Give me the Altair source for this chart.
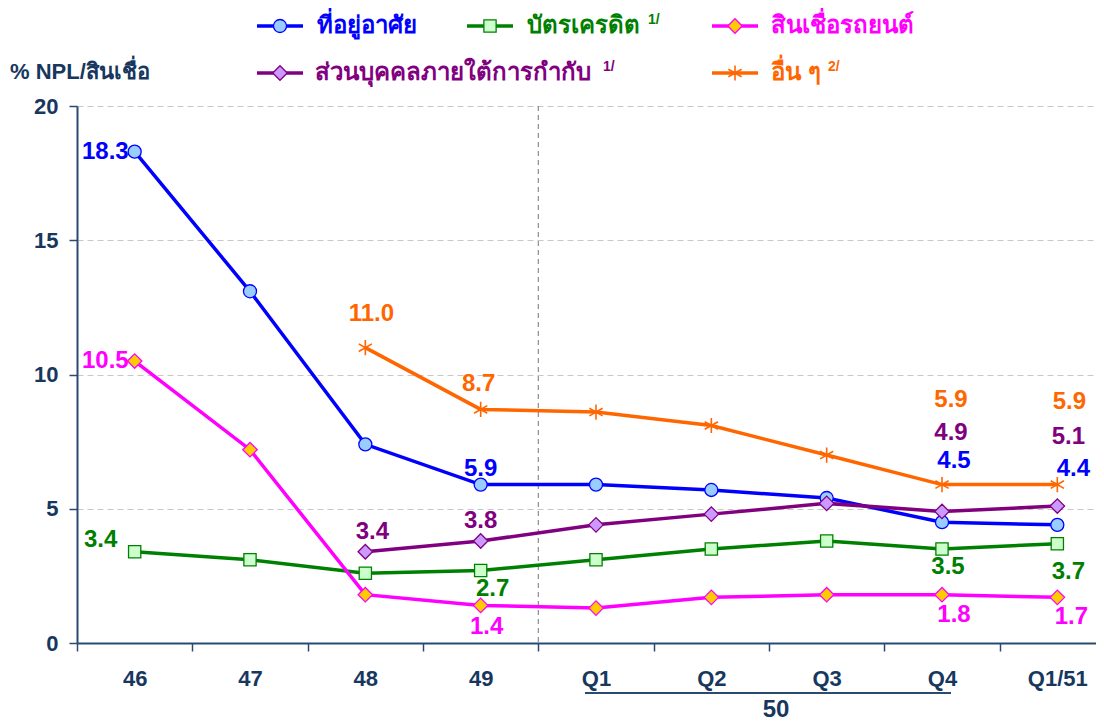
import altair as alt
import pandas as pd

# ---------------- data ----------------
categories = ["46", "47", "48", "49", "Q1", "Q2", "Q3", "Q4", "Q1/51"]
series_names = ["ที่อยู่อาศัย", "บัตรเครดิต", "สินเชื่อรถยนต์",
                "ส่วนบุคคลภายใต้การกำกับ", "อื่น ๆ"]
series_notes = ["", "1/", "", "1/", "2/"]
housing = [18.3, 13.1, 7.4, 5.9, 5.9, 5.7, 5.4, 4.5, 4.4]
credit_card = [3.4, 3.1, 2.6, 2.7, 3.1, 3.5, 3.8, 3.5, 3.7]
auto_loan = [10.5, 7.2, 1.8, 1.4, 1.3, 1.7, 1.8, 1.8, 1.7]
personal = [None, None, 3.4, 3.8, 4.4, 4.8, 5.2, 4.9, 5.1]
others = [None, None, 11.0, 8.7, 8.6, 8.1, 7.0, 5.9, 5.9]
series_values = [housing, credit_card, auto_loan, personal, others]
y_ticks = [0, 5, 10, 15, 20]
y_title = "% NPL/สินเชื่อ"
group_label = "50"
group_start, group_end = "Q1", "Q4"

# labelled points: (series index, category)
labelled = [(0, "46"), (2, "46"), (1, "46"),
            (4, "48"), (3, "48"),
            (4, "49"), (0, "49"), (3, "49"), (1, "49"), (2, "49"),
            (4, "Q4"), (3, "Q4"), (0, "Q4"), (1, "Q4"), (2, "Q4"),
            (4, "Q1/51"), (3, "Q1/51"), (0, "Q1/51"), (1, "Q1/51"), (2, "Q1/51")]

# ---------------- styling / layout ----------------
W, H = 1019, 537
FONT = "Liberation Sans, Arial, Noto Sans, sans-serif"
NAVY = "#17375E"
AXIS_COL = "#2B4A72"
ASTERISK = "M0,-1L0,1M-0.87,-0.5L0.87,0.5M-0.87,0.5L0.87,-0.5"
STYLE = [
    dict(color="#0000FF", shape="circle", fill="#99CCFF", size=170),
    dict(color="#008000", shape="square", fill="#CCFFCC", size=150),
    dict(color="#FF00FF", shape="diamond", fill="#FFCC00", size=210),
    dict(color="#800080", shape="diamond", fill="#CC99FF", size=210),
    dict(color="#FF6600", shape=ASTERISK, fill=None, size=230),
]
# label offsets (dx, dy, align) in pixels
LABEL_POS = {
    (0, "46"): (-6, 0, "right"), (2, "46"): (-6, 0, "right"), (1, "46"): (-34, -12, "center"),
    (4, "48"): (6, -34, "center"), (3, "48"): (7, -20, "center"),
    (4, "49"): (-2, -25, "center"), (0, "49"): (0, -16, "center"), (3, "49"): (0, -20, "center"),
    (1, "49"): (12, 18, "center"), (2, "49"): (6, 22, "center"),
    (4, "Q4"): (9, -85, "center"), (3, "Q4"): (9, -78, "center"), (0, "Q4"): (12, -61, "center"),
    (1, "Q4"): (6, 18, "center"), (2, "Q4"): (12, 20, "center"),
    (4, "Q1/51"): (12, -83, "center"), (3, "Q1/51"): (11, -69, "center"),
    (0, "Q1/51"): (16, -56, "center"), (1, "Q1/51"): (11, 28, "center"),
    (2, "Q1/51"): (14, 20, "center"),
}
# legend layout: (symbol x, row y, text x, note x) in plot coords
LEGEND_POS = [(203, -80, 240, None), (413, -80, 450, 571), (658, -80, 694, None),
              (203, -33, 238, 526), (658, -33, 694, 751)]

x_scale = alt.Scale(type="band", domain=categories, range=[0, 1038],
                    paddingInner=0, paddingOuter=0)
y_scale = alt.Scale(domain=[0, 20], nice=False)
x_axis = alt.Axis(title=None, labelAngle=0, tickBand="extent", domainColor=AXIS_COL,
                  domainWidth=2, tickColor=AXIS_COL, tickSize=8, tickWidth=1.5,
                  labelPadding=17, labelFontSize=22, labelFontWeight="bold",
                  labelColor=NAVY, labelFont=FONT, grid=False)
y_axis = alt.Axis(title=None, values=y_ticks, grid=True, gridDash=[6, 4],
                  gridColor="#C8C8C8", gridWidth=1.2, domainColor=AXIS_COL, domainWidth=2,
                  tickColor=AXIS_COL, tickSize=8, tickWidth=1.5, labelPadding=11,
                  labelFontSize=22, labelFontWeight="bold", labelColor=NAVY,
                  labelFont=FONT)

X = alt.X("cat:N", scale=x_scale, axis=x_axis, sort=categories)
Y = alt.Y("v:Q", scale=y_scale, axis=y_axis)

layers = []

# vertical dashed separator at start of Q1
sep_df = pd.DataFrame({"cat": [group_start]})
layers.append(alt.Chart(sep_df).mark_rule(color="#8C8C8C", strokeDash=[5, 4],
                                          strokeWidth=1.2).encode(
    x=alt.X("cat:N", scale=x_scale, axis=x_axis, bandPosition=0),
    y=alt.value(0), y2=alt.value(H)))

# lines and markers
for i, vals in enumerate(series_values):
    df = pd.DataFrame({"cat": categories, "v": vals}).dropna()
    st = STYLE[i]
    layers.append(alt.Chart(df).mark_line(color=st["color"], strokeWidth=3.5).encode(x=X, y=Y))
for i, vals in enumerate(series_values):
    df = pd.DataFrame({"cat": categories, "v": vals}).dropna()
    st = STYLE[i]
    if st["fill"] is None:
        pm = alt.Chart(df).mark_point(shape=st["shape"], filled=False, stroke=st["color"],
                                      strokeWidth=1.6, size=st["size"], opacity=1)
    else:
        pm = alt.Chart(df).mark_point(shape=st["shape"], filled=True, fill=st["fill"],
                                      stroke=st["color"], strokeWidth=1.3,
                                      size=st["size"], opacity=1)
    layers.append(pm.encode(x=X, y=Y))

# data labels
for (si, cat) in labelled:
    v = series_values[si][categories.index(cat)]
    dx, dy, al = LABEL_POS[(si, cat)]
    df = pd.DataFrame({"cat": [cat], "v": [v], "label": [f"{v:.1f}"]})
    layers.append(alt.Chart(df).mark_text(
        dx=dx, dy=dy, align=al, baseline="middle", fontSize=24, fontWeight="bold",
        font=FONT, color=STYLE[si]["color"]).encode(x=X, y=Y, text="label:N"))

# group bracket "50"
grp_df = pd.DataFrame({"cat": [group_start], "cat2": [group_end]})
layers.append(alt.Chart(grp_df).mark_rule(color=AXIS_COL, strokeWidth=2,
                                          xOffset=-11, x2Offset=9).encode(
    x=X, x2="cat2:N", y=alt.value(H + 50)))
grp_t = pd.DataFrame({"cat": ["Q2"], "label": [group_label]})
layers.append(alt.Chart(grp_t).mark_text(fontSize=24, fontWeight="bold", font=FONT,
                                         color=NAVY, baseline="middle", dx=7).encode(
    x=alt.X("cat:N", scale=x_scale, axis=x_axis, bandPosition=1),
    y=alt.value(H + 67), text="label:N"))

# y title
layers.append(alt.Chart(alt.Data(values=[{"t": y_title}])).mark_text(
    align="left", baseline="middle", fontSize=22, fontWeight="bold", font=FONT,
    color=NAVY).encode(x=alt.value(-67), y=alt.value(-34), text="t:N"))

# custom legend
one = alt.Data(values=[{}])
for i, name in enumerate(series_names):
    sx, sy, tx, nx = LEGEND_POS[i]
    st = STYLE[i]
    layers.append(alt.Chart(one).mark_rule(color=st["color"], strokeWidth=3.5).encode(
        x=alt.value(sx - 23), x2=alt.value(sx + 23), y=alt.value(sy)))
    if st["fill"] is None:
        pm = alt.Chart(one).mark_point(shape=st["shape"], filled=False, stroke=st["color"],
                                       strokeWidth=1.6, size=st["size"], opacity=1)
    else:
        pm = alt.Chart(one).mark_point(shape=st["shape"], filled=True, fill=st["fill"],
                                       stroke=st["color"], strokeWidth=1.3,
                                       size=st["size"], opacity=1)
    layers.append(pm.encode(x=alt.value(sx), y=alt.value(sy)))
    layers.append(alt.Chart(alt.Data(values=[{"t": name}])).mark_text(
        align="left", baseline="middle", fontSize=24, fontWeight="bold", font=FONT,
        color=st["color"]).encode(x=alt.value(tx), y=alt.value(sy), text="t:N"))
    if series_notes[i]:
        layers.append(alt.Chart(alt.Data(values=[{"t": series_notes[i]}])).mark_text(
            align="left", baseline="middle", fontSize=14, fontWeight="bold", font=FONT,
            color=st["color"]).encode(x=alt.value(nx), y=alt.value(sy - 6), text="t:N"))

chart = alt.layer(*layers).properties(
    width=W, height=H,
    padding={"left": 69, "top": 98, "right": 0, "bottom": 84},
    autosize=alt.AutoSizeParams(type="none"),
    background="white",
).configure_view(stroke=None)

chart.save("out.html", embed_options={"renderer": "svg", "actions": False})
